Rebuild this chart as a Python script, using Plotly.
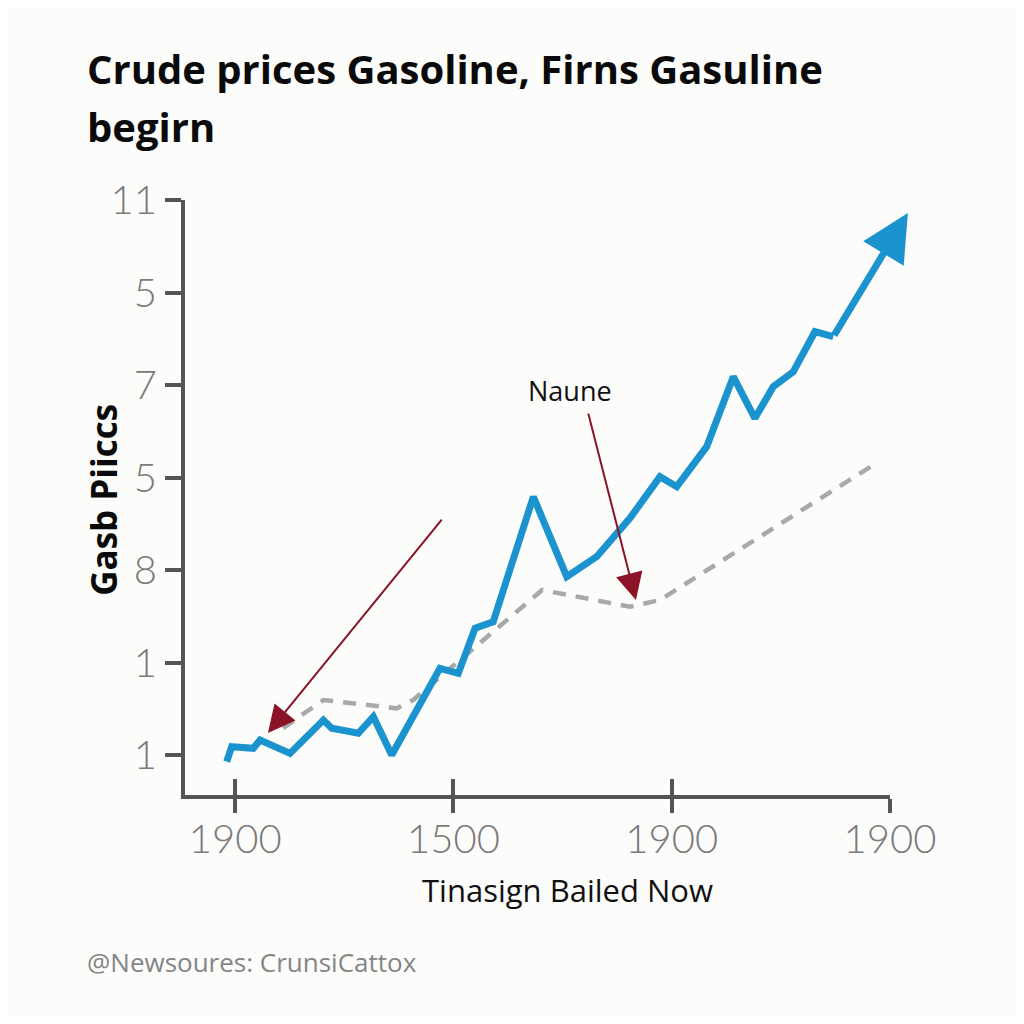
import plotly.graph_objects as go

# ---------------- data ----------------
x_tick_vals = [0, 1, 2, 3]
x_tick_text = ["1900", "1500", "1900", "1900"]
y_tick_vals = [0, 1, 2, 3, 4, 5, 6]
y_tick_text = ["1", "1", "8", "5", "7", "5", "11"]

blue_x = [-0.039, -0.016, 0.083, 0.114, 0.251, 0.404, 0.442, 0.564, 0.633, 0.717,
          0.938, 1.022, 1.099, 1.182, 1.366, 1.519, 1.656, 1.809, 1.946, 2.023,
          2.160, 2.282, 2.381, 2.465, 2.557, 2.656, 2.740, 3.082]
blue_y = [-0.072, 0.090, 0.073, 0.162, 0.018, 0.378, 0.289, 0.235, 0.414, 0.000,
          0.937, 0.883, 1.370, 1.441, 2.792, 1.928, 2.144, 2.562, 3.009, 2.901,
          3.333, 4.090, 3.640, 3.982, 4.144, 4.576, 4.522, 5.859]

gray_x = [0.219, 0.404, 0.740, 0.815, 1.406, 1.809, 1.946, 2.945]
gray_y = [0.292, 0.595, 0.505, 0.595, 1.784, 1.603, 1.676, 3.168]

# annotation arrows: (tail_x, tail_y, tip_x, tip_y)
arrow1 = (0.952, 2.562, 0.150, 0.238)
arrow2 = (1.616, 3.708, 1.836, 1.676)
label_naune = (1.534, 3.946, "Naune")

title_line1 = "Crude prices Gasoline, Firns Gasuline"
title_line2 = "begirn"
x_title = "Tinasign Bailed Now"
y_title = "Gasb Piiccs"
source = "@Newsoures: CrunsiCattox"

# ---------------- style ----------------
BLUE = "#1b93cf"
GRAY = "#a9a9a9"
RED = "#8a1328"
AXIS = "#555555"
TICKFONT = dict(family="Lato", size=40, color="#7a7a7a", weight=300)
BG = "#fcfcfa"

fig = go.Figure()

fig.add_trace(go.Scatter(
    x=gray_x, y=gray_y, mode="lines",
    line=dict(color=GRAY, width=4.5, dash="13px,10px"),
    cliponaxis=False, showlegend=False, hoverinfo="skip"))

# blue series: line through all points but the last, last segment drawn as arrow
fig.add_trace(go.Scatter(
    x=blue_x[:-1], y=blue_y[:-1], mode="lines",
    line=dict(color=BLUE, width=7, shape="linear"),
    cliponaxis=False, showlegend=False, hoverinfo="skip"))
fig.add_annotation(x=blue_x[-1], y=blue_y[-1], ax=blue_x[-2], ay=blue_y[-2],
                   xref="x", yref="y", axref="x", ayref="y", text="",
                   showarrow=True, arrowhead=2, arrowsize=1.35, arrowwidth=7,
                   arrowcolor=BLUE)

for (tx, ty, hx, hy) in (arrow1, arrow2):
    fig.add_annotation(x=hx, y=hy, ax=tx, ay=ty, xref="x", yref="y",
                       axref="x", ayref="y", text="", showarrow=True,
                       arrowhead=2, arrowsize=2.7, arrowwidth=2,
                       arrowcolor=RED)

fig.add_annotation(x=label_naune[0], y=label_naune[1], xref="x", yref="y",
                   xanchor="center", yanchor="middle",
                   text=label_naune[2], showarrow=False,
                   font=dict(family="Open Sans", size=27, color="#111111"))

# titles and texts (paper coords relative to plot area)
fig.add_annotation(x=-0.1418, y=1.2215, xref="paper", yref="paper",
                   xanchor="left", yanchor="middle", text=title_line1,
                   showarrow=False,
                   font=dict(family="Open Sans", size=40, color="#0a0a0a", weight=700))
fig.add_annotation(x=-0.1418, y=1.124, xref="paper", yref="paper",
                   xanchor="left", yanchor="middle", text=title_line2,
                   showarrow=False,
                   font=dict(family="Open Sans", size=40, color="#0a0a0a", weight=700))
fig.add_annotation(x=0.542, y=-0.160, xref="paper", yref="paper",
                   xanchor="center", yanchor="middle",
                   text=x_title, showarrow=False,
                   font=dict(family="Open Sans", size=31, color="#111111"))
fig.add_annotation(x=-0.115, y=0.496, xref="paper", yref="paper",
                   xanchor="center", yanchor="middle",
                   text=y_title, showarrow=False, textangle=-90,
                   font=dict(family="Open Sans", size=35, color="#0a0a0a", weight=700))
fig.add_annotation(x=-0.1418, y=-0.281, xref="paper", yref="paper",
                   xanchor="left", yanchor="middle", text=source, showarrow=False,
                   font=dict(family="Open Sans", size=26, color="#858585"))

x_range = [-0.23, 3.0]
y_range = [-0.432, 6.0]

fig.update_layout(
    width=1008, height=1008,
    paper_bgcolor=BG, plot_bgcolor=BG,
    margin=dict(l=177, r=126, t=192, b=221),
    showlegend=False,
    xaxis=dict(range=x_range, tickvals=x_tick_vals, ticktext=x_tick_text,
               showgrid=False, zeroline=False, showline=True, linecolor=AXIS,
               linewidth=4, ticks="outside", ticklen=14, tickwidth=4,
               tickcolor=AXIS, tickfont=TICKFONT, fixedrange=True,
               ticklabelstandoff=-8),
    xaxis2=dict(range=x_range, tickvals=x_tick_vals, overlaying="x",
                side="bottom", anchor="y", showgrid=False, zeroline=False,
                showticklabels=False, ticks="inside", ticklen=16, tickwidth=4,
                tickcolor=AXIS, showline=False),
    yaxis=dict(range=y_range, tickvals=y_tick_vals, ticktext=y_tick_text,
               showgrid=False, zeroline=False, showline=True, linecolor=AXIS,
               linewidth=4, ticks="outside", ticklen=16, tickwidth=4,
               tickcolor=AXIS, tickfont=TICKFONT, fixedrange=True),
    yaxis2=dict(range=y_range, tickvals=[y_tick_vals[-1]], overlaying="y",
                side="left", anchor="x", showgrid=False, zeroline=False,
                showticklabels=False, ticks="inside", ticklen=16, tickwidth=4,
                tickcolor=AXIS, showline=False),
)

# invisible trace to activate the overlay axes
fig.add_trace(go.Scatter(x=[None], y=[None], xaxis="x2", yaxis="y2",
                         showlegend=False, hoverinfo="skip"))

fig.write_html("out.html")
